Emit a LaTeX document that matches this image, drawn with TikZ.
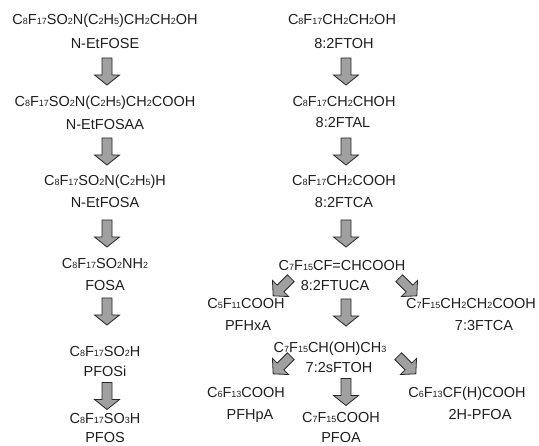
\documentclass[tikz,border=0pt]{standalone}
\usepackage{fontspec}
\setmainfont{Liberation Sans}
\newcommand{\chs}[1]{\raisebox{-0.8pt}{\fontsize{9}{9}\selectfont #1}}
\definecolor{arrowfill}{RGB}{160,160,160}
\definecolor{arrowline}{RGB}{40,40,40}
\definecolor{txt}{RGB}{30,30,30}
\begin{document}
\begin{tikzpicture}[x=1pt,y=-1pt,
  chem/.style={inner sep=0pt, text height=10.4pt, text depth=0pt,
    font=\fontsize{14.5}{16}\selectfont, text=txt},
  arrowstyle/.style={fill=arrowfill, draw=arrowline, line width=0.8pt, line join=miter},
  blockarrow/.pic={\draw[arrowstyle] (-5,-13.5) -- (5,-13.5) -- (5,3.5) -- (12.5,3.5) -- (0,13.5) -- (-12.5,3.5) -- (-5,3.5) -- cycle;},
  diagarrow/.pic={\draw[arrowstyle] (-4.8,-12.5) -- (4.8,-12.5) -- (4.8,2) -- (11.5,2) -- (0,12.5) -- (-11.5,2) -- (-4.8,2) -- cycle;}]
\useasboundingbox (0,0) rectangle (539,446);
% left column
\node[chem] (f1) at (105,19) {C\chs{8}F\chs{17}SO\chs{2}N(C\chs{2}H\chs{5})CH\chs{2}CH\chs{2}OH};
\node[chem] (n1) at (105,43) {N-EtFOSE};
\node[chem] (f2) at (105,101) {C\chs{8}F\chs{17}SO\chs{2}N(C\chs{2}H\chs{5})CH\chs{2}COOH};
\node[chem] (n2) at (105,124) {N-EtFOSAA};
\node[chem] (f3) at (105,180) {C\chs{8}F\chs{17}SO\chs{2}N(C\chs{2}H\chs{5})H};
\node[chem] (n3) at (105,202) {N-EtFOSA};
\node[chem] (f4) at (105,263) {C\chs{8}F\chs{17}SO\chs{2}NH\chs{2}};
\node[chem] (n4) at (105,285) {FOSA};
\node[chem] (f5) at (105,351) {C\chs{8}F\chs{17}SO\chs{2}H};
\node[chem] (n5) at (105,371) {PFOSi};
\node[chem] (f6) at (105,418) {C\chs{8}F\chs{17}SO\chs{3}H};
\node[chem] (n6) at (105,437) {PFOS};
\pic at (107,71.5) {blockarrow};
\pic at (107,151.5) {blockarrow};
\pic at (107,233.5) {blockarrow};
\pic at (107,311.5) {blockarrow};
\pic at (107,396) {blockarrow};
% right column
\node[chem] (g1) at (342,19) {C\chs{8}F\chs{17}CH\chs{2}CH\chs{2}OH};
\node[chem] (m1) at (344,43) {8:2FTOH};
\node[chem] (g2) at (344,101) {C\chs{8}F\chs{17}CH\chs{2}CHOH};
\node[chem] (m2) at (343,122) {8:2FTAL};
\node[chem] (g3) at (344,180) {C\chs{8}F\chs{17}CH\chs{2}COOH};
\node[chem] (m3) at (344,202) {8:2FTCA};
\node[chem] (g4) at (342,265) {C\chs{7}F\chs{15}CF=CHCOOH};
\node[chem] (m4) at (335,285) {8:2FTUCA};
\pic at (346,71.5) {blockarrow};
\pic at (346,151.5) {blockarrow};
\pic at (346,233.5) {blockarrow};
% branches
\node[chem] (a1) at (246,303) {C\chs{5}F\chs{11}COOH};
\node[chem] (b1) at (248,325) {PFHxA};
\node[chem] (a2) at (471,303) {C\chs{7}F\chs{15}CH\chs{2}CH\chs{2}COOH};
\node[chem] (b2) at (484,325) {7:3FTCA};
\node[chem] (a3) at (330,347) {C\chs{7}F\chs{15}CH(OH)CH\chs{3}};
\node[chem] (b3) at (339,367) {7:2sFTOH};
\node[chem] (a4) at (246,392) {C\chs{6}F\chs{13}COOH};
\node[chem] (b4) at (250,414) {PFHpA};
\node[chem] (a5) at (467,392) {C\chs{6}F\chs{13}CF(H)COOH};
\node[chem] (b5) at (480,414) {2H-PFOA};
\node[chem] (a6) at (341,417) {C\chs{7}F\chs{15}COOH};
\node[chem] (b6) at (341,437) {PFOA};
\pic[rotate=-45] at (282,287) {diagarrow};
\pic[rotate=45] at (408,287) {diagarrow};
\pic at (346,312.5) {blockarrow};
\pic[rotate=-45] at (282,365) {diagarrow};
\pic[rotate=45] at (407,365) {diagarrow};
\pic at (346,392) {blockarrow};
\end{tikzpicture}
\end{document}
